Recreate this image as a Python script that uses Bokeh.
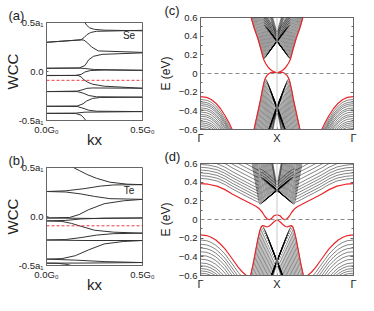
import numpy as np
from bokeh.plotting import figure
from bokeh.layouts import row, column
from bokeh.models import Span, FixedTicker, LinearAxis, Label, Range1d
from bokeh.embed import file_html
from bokeh.resources import INLINE

FONT = "Liberation Sans"
FRAME = "#666666"
RED = "#e8262a"

# ---------------- (a) Se : WCC vs kx (units a1 / G0) ----------------
se_k = [
    [0, 0.179, 0.195, 0.21, 0.23, 0.26, 0.5],
    [0, 0.179, 0.195, 0.215, 0.235, 0.27, 0.5],
    [0, 0.17, 0.2, 0.22, 0.245, 0.29, 0.5],
    [0, 0.17, 0.2, 0.25, 0.5],
    [0, 0.15, 0.18, 0.2, 0.23, 0.3, 0.5],
    [0, 0.164, 0.18, 0.195, 0.215, 0.241, 0.3, 0.5],
    [0, 0.16, 0.19, 0.21, 0.24, 0.5],
    [0, 0.16, 0.19, 0.22, 0.26, 0.5],
    [0, 0.16, 0.19, 0.21, 0.24, 0.28, 0.5],
    [0, 0.16, 0.19, 0.22, 0.26, 0.5],
    [0, 0.15, 0.2, 0.5],
    [0, 0.15, 0.18, 0.195, 0.205],
    [0.2, 0.21, 0.225, 0.25, 0.3, 0.5],
]
se_w = [
    [0.298, 0.323, 0.345, 0.375, 0.398, 0.41, 0.42],
    [0.298, 0.323, 0.32, 0.29, 0.25, 0.21, 0.195],
    [0.033, 0.036, 0.06, 0.12, 0.155, 0.175, 0.19],
    [0.033, 0.035, 0.03, 0.02, 0.012],
    [-0.04, -0.04, -0.03, -0.005, 0.01, 0.015, 0.012],
    [-0.042, -0.04, -0.055, -0.084, -0.11, -0.13, -0.15, -0.171],
    [-0.205, -0.2, -0.185, -0.172, -0.168, -0.171],
    [-0.205, -0.205, -0.22, -0.245, -0.258, -0.262],
    [-0.355, -0.352, -0.33, -0.3, -0.275, -0.265, -0.262],
    [-0.355, -0.357, -0.375, -0.395, -0.405, -0.409],
    [-0.427, -0.425, -0.415, -0.409],
    [-0.427, -0.428, -0.445, -0.475, -0.5],
    [0.5, 0.47, 0.445, 0.43, 0.422, 0.415],
]
se_ref = -0.09

# ---------------- (b) Te ----------------
te_k = [
    [0, 0.1, 0.2, 0.28, 0.35, 0.5],
    [0, 0.1, 0.18, 0.25, 0.33, 0.5],
    [0, 0.12, 0.17, 0.22, 0.3, 0.4, 0.5],
    [0, 0.25, 0.5],
    [0, 0.1, 0.18, 0.3, 0.5],
    [0, 0.08, 0.13, 0.18, 0.25, 0.35, 0.5],
    [0, 0.1, 0.18, 0.26, 0.35, 0.5],
    [0, 0.2, 0.5],
    [0, 0.08, 0.15, 0.22, 0.3, 0.4, 0.5],
    [0, 0.15, 0.3, 0.5],
    [0, 0.2, 0.5],
    [0, 0.06, 0.1, 0.13],
    [0.14, 0.17, 0.21, 0.26, 0.33, 0.42, 0.5],
]
te_w = [
    [0.255, 0.262, 0.285, 0.31, 0.322, 0.325],
    [0.255, 0.25, 0.23, 0.205, 0.182, 0.175],
    [-0.015, -0.01, 0.02, 0.07, 0.13, 0.16, 0.175],
    [-0.015, -0.02, -0.015],
    [-0.045, -0.04, -0.025, -0.017, -0.015],
    [-0.045, -0.05, -0.07, -0.1, -0.14, -0.16, -0.17],
    [-0.24, -0.235, -0.215, -0.19, -0.175, -0.17],
    [-0.24, -0.245, -0.245],
    [-0.435, -0.43, -0.4, -0.34, -0.28, -0.255, -0.245],
    [-0.435, -0.445, -0.46, -0.47],
    [-0.476, -0.475, -0.47],
    [-0.476, -0.478, -0.487, -0.5],
    [0.5, 0.47, 0.43, 0.39, 0.35, 0.33, 0.325],
]
te_ref = -0.095

# ---------------- (c) bands (left half, Gamma=0 .. X=0.5; right half mirrored) ----------------
c_gv_k = [0.0, 0.04, 0.07, 0.10, 0.13, 0.16, 0.19, 0.21, 0.23]
c_gv_e = [-0.248, -0.256, -0.278, -0.318, -0.375, -0.45, -0.54, -0.61, -0.68]
c_gv_shift = [0.03, 0.055, 0.075, 0.095, 0.12, 0.14, 0.165, 0.19, 0.21, 0.235, 0.26, 0.28, 0.30, 0.32, 0.34, 0.36]

c_xc_k = [0.323, 0.331, 0.35, 0.374, 0.395, 0.407, 0.414, 0.422, 0.44, 0.465, 0.485, 0.5]
c_xc_e = [0.64, 0.60, 0.49, 0.38, 0.26, 0.19, 0.155, 0.17, 0.215, 0.27, 0.315, 0.33]
c_xc_dk = [0.0, 0.005, 0.01, 0.015, 0.02, 0.025, 0.03, 0.035, 0.04, 0.045, 0.05, 0.055, 0.06, 0.065, 0.07, 0.075, 0.08, 0.086, 0.086, 0.086, 0.086, 0.086]
c_xc_de = [0.0, 0.011, 0.022, 0.033, 0.044, 0.055, 0.066, 0.077, 0.088, 0.099, 0.11, 0.121, 0.132, 0.143, 0.154, 0.165, 0.176, 0.19, 0.215, 0.24, 0.265, 0.29]

c_xv_k = [0.34, 0.35, 0.37, 0.39, 0.405, 0.416, 0.424, 0.433, 0.45, 0.47, 0.49, 0.5]
c_xv_e = [-0.68, -0.6, -0.45, -0.3, -0.17, -0.09, -0.055, -0.075, -0.15, -0.25, -0.34, -0.37]
c_xv_dk = [0.0, 0.005, 0.01, 0.015, 0.02, 0.025, 0.03, 0.035, 0.04, 0.045, 0.05, 0.055, 0.06, 0.065, 0.07, 0.076, 0.076, 0.076]
c_xv_de = [0.0, -0.021, -0.041, -0.062, -0.083, -0.104, -0.124, -0.145, -0.166, -0.187, -0.207, -0.228, -0.249, -0.27, -0.29, -0.315, -0.34, -0.37]

c_ru_k = [0.325, 0.331, 0.35, 0.374, 0.395, 0.407, 0.413, 0.425, 0.443, 0.463, 0.482, 0.5]
c_ru_e = [0.64, 0.60, 0.49, 0.38, 0.26, 0.185, 0.15, 0.11, 0.065, 0.035, 0.017, 0.008]
c_rl_k = [0.34, 0.35, 0.37, 0.39, 0.405, 0.416, 0.424, 0.435, 0.448, 0.463, 0.482, 0.5]
c_rl_e = [-0.68, -0.6, -0.45, -0.3, -0.17, -0.09, -0.05, -0.02, 0.0, 0.013, 0.013, 0.008]

# ---------------- (d) bands ----------------
d_gv_k = [0.0, 0.04, 0.069, 0.1, 0.128, 0.16, 0.187, 0.22, 0.246, 0.275, 0.3, 0.32]
d_gv_e = [-0.165, -0.172, -0.19, -0.22, -0.26, -0.315, -0.375, -0.45, -0.51, -0.565, -0.6, -0.63]
d_gv_shift = [0.055, 0.1, 0.14, 0.18, 0.22, 0.26, 0.3, 0.33, 0.36, 0.385, 0.41, 0.43]

d_gc_k = [0.0, 0.05, 0.108, 0.16, 0.207, 0.26, 0.305, 0.34, 0.364, 0.38]
d_gc_e = [0.385, 0.378, 0.358, 0.32, 0.274, 0.228, 0.19, 0.16, 0.14, 0.128]
d_gc_shift = [0.055, 0.085, 0.115, 0.145, 0.175, 0.205, 0.24, 0.28, 0.32, 0.36, 0.4]

d_xc_k = [0.33, 0.337, 0.35, 0.362, 0.373, 0.381, 0.387, 0.393, 0.41, 0.435, 0.46, 0.485, 0.5]
d_xc_e = [0.65, 0.6, 0.48, 0.37, 0.27, 0.2, 0.165, 0.165, 0.19, 0.225, 0.26, 0.29, 0.3]
d_xc_dk = [0.0, 0.006, 0.012, 0.018, 0.024, 0.03, 0.037, 0.043, 0.05, 0.056, 0.062, 0.068, 0.074, 0.08, 0.086, 0.092, 0.098, 0.104, 0.11, 0.11, 0.11, 0.11]
d_xc_de = [0.0, 0.008, 0.017, 0.025, 0.034, 0.042, 0.051, 0.06, 0.068, 0.077, 0.086, 0.094, 0.103, 0.111, 0.12, 0.128, 0.137, 0.146, 0.155, 0.18, 0.21, 0.24]

d_xv_k = [0.32, 0.328, 0.345, 0.36, 0.375, 0.388, 0.397, 0.404, 0.415, 0.435, 0.46, 0.48, 0.5]
d_xv_e = [-0.66, -0.6, -0.47, -0.34, -0.21, -0.12, -0.078, -0.068, -0.09, -0.17, -0.28, -0.37, -0.45]
d_xv_dk = [0.0, 0.006, 0.012, 0.018, 0.024, 0.03, 0.036, 0.042, 0.048, 0.054, 0.06, 0.066, 0.072, 0.078, 0.084, 0.09, 0.096, 0.096]
d_xv_de = [0.0, -0.025, -0.05, -0.075, -0.1, -0.125, -0.15, -0.175, -0.2, -0.225, -0.25, -0.275, -0.3, -0.325, -0.35, -0.375, -0.4, -0.43]

d_ru_k = [0.0, 0.05, 0.108, 0.16, 0.207, 0.26, 0.305, 0.34, 0.364, 0.385, 0.405, 0.42, 0.435, 0.45, 0.465, 0.48, 0.5]
d_ru_e = [0.385, 0.378, 0.358, 0.32, 0.274, 0.228, 0.19, 0.16, 0.14, 0.115, 0.075, 0.035, 0.008, -0.002, 0.012, 0.04, 0.05]
d_rl_k = [0.32, 0.328, 0.345, 0.36, 0.375, 0.388, 0.397, 0.404, 0.415, 0.43, 0.445, 0.46, 0.475, 0.49, 0.5]
d_rl_e = [-0.66, -0.6, -0.47, -0.34, -0.21, -0.12, -0.078, -0.065, -0.068, -0.078, -0.075, -0.057, -0.032, -0.012, -0.005]

E_TICKS = [-0.6, -0.4, -0.2, 0.0, 0.2, 0.4, 0.6]
E_MINOR = [-0.5, -0.3, -0.1, 0.1, 0.3, 0.5]
K_TICKS = [0.0, 0.5, 1.0]
K_LABELS = ["Γ", "X", "Γ"]


def base_fig(w, h, bl, br, bt, bb, xr, yr, letter, loff):
    p = figure(width=w, height=h, x_range=Range1d(*xr), y_range=Range1d(*yr),
               output_backend="svg", toolbar_location=None,
               min_border_left=bl, min_border_right=br,
               min_border_top=bt, min_border_bottom=bb, title=letter)
    p.title.align = "left"
    p.title.offset = loff
    p.title.standoff = 0
    p.title.text_font = FONT
    p.title.text_font_size = "13px"
    p.title.text_font_style = "normal"
    p.title.text_color = "#222222"
    p.xgrid.visible = False
    p.ygrid.visible = False
    p.outline_line_color = FRAME
    p.outline_line_width = 1
    p.background_fill_color = "white"
    p.border_fill_color = "white"
    for ax in (p.xaxis[0], p.yaxis[0]):
        ax.axis_line_color = FRAME
        ax.major_tick_line_color = FRAME
        ax.minor_tick_line_color = FRAME
        ax.major_label_text_font = FONT
        ax.major_label_text_font_size = "9.5px"
        ax.major_label_text_color = "#222222"
        ax.axis_label_text_font = FONT
        ax.axis_label_text_font_style = "normal"
        ax.axis_label_text_color = "#222222"
    return p


def wcc_fig(h, bt, bb, ks, ws, ref, tag, name, ty):
    p = base_fig(155, h, 39, 13, bt, bb, (0, 0.5), (-0.5, 0.5), tag, -38)
    p.xaxis.ticker = FixedTicker(ticks=[0.0, 0.5])
    p.xaxis.major_label_overrides = {0: "0.0G₀", 0.5: "0.5G₀"}
    p.yaxis.ticker = FixedTicker(ticks=[-0.5, 0.0, 0.5])
    p.yaxis.major_label_overrides = {-0.5: "-0.5a₁", 0: "0.0", 0.5: "0.5a₁"}
    for ax in (p.xaxis[0], p.yaxis[0]):
        ax.major_tick_in = 2
        ax.major_tick_out = 0
        ax.minor_tick_line_color = None
        ax.major_label_standoff = 3
        ax.axis_label_text_font_size = "15px"
    p.xaxis.axis_label = "kx"
    p.xaxis.axis_label_standoff = -7
    p.yaxis.axis_label = "WCC"
    p.yaxis.axis_label_standoff = -5
    p.multi_line(ks, ws, line_color="#333333", line_width=1.0)
    p.add_layout(Span(location=ref, dimension="width", line_color=RED,
                      line_dash="3 2", line_width=0.9))
    p.add_layout(Label(x=0.43, y=ty, text=name, text_font=FONT, text_font_size="10px",
                       text_color="#222222", text_align="center", text_baseline="middle"))
    return p


def fam_shift(ks, es, shifts, sign):
    xs, ys = [], []
    for s in shifts:
        e = [v + sign * s for v in es]
        xs.append(list(ks)); ys.append(e)
        xs.append([1 - k for k in ks]); ys.append(e)
    return xs, ys


def fam_move(ks, es, dks, des):
    xs, ys = [], []
    for dk, de in zip(dks, des):
        k2 = [k + dk for k in ks]
        e2 = [v + de for v in es]
        xs.append(k2); ys.append(e2)
        xs.append([1 - k for k in k2]); ys.append(e2)
    return xs, ys


def both(ks, es):
    return [list(ks), [1 - k for k in ks]], [list(es), list(es)]


def band_fig(h, bt, bb, tag, shift_fams, move_fams, red_lines):
    p = base_fig(203, h, 38, 5, bt, bb, (0, 1), (-0.6, 0.6), tag, -36)
    p.xaxis.ticker = FixedTicker(ticks=K_TICKS)
    p.xaxis.major_label_overrides = {0: K_LABELS[0], 0.5: K_LABELS[1], 1: K_LABELS[2]}
    p.xaxis.major_label_text_font_size = "11px"
    p.xaxis.major_tick_in = 2
    p.xaxis.major_tick_out = 0
    p.xaxis.minor_tick_line_color = None
    p.xaxis.major_label_standoff = 2
    p.yaxis.ticker = FixedTicker(ticks=E_TICKS, minor_ticks=E_MINOR)
    p.yaxis.major_tick_in = 3
    p.yaxis.major_tick_out = 0
    p.yaxis.minor_tick_in = 2
    p.yaxis.minor_tick_out = 0
    p.yaxis.major_label_standoff = 3
    p.yaxis.axis_label = "E (eV)"
    p.yaxis.axis_label_text_font_size = "12px"
    p.yaxis.axis_label_standoff = 3
    right = LinearAxis(ticker=FixedTicker(ticks=E_TICKS, minor_ticks=E_MINOR),
                       major_label_overrides={t: "" for t in E_TICKS},
                       major_label_standoff=0,
                       axis_line_color=FRAME, major_tick_line_color=FRAME,
                       minor_tick_line_color=FRAME, major_tick_in=3, major_tick_out=0,
                       minor_tick_in=2, minor_tick_out=0)
    p.add_layout(right, "right")
    for (ks, es, shifts, sign) in shift_fams:
        xs, ys = fam_shift(ks, es, shifts, sign)
        p.multi_line(xs, ys, line_color="black", line_width=0.55, line_alpha=0.9)
    for (ks, es, dks, des) in move_fams:
        xs, ys = fam_move(ks, es, dks, des)
        p.multi_line(xs, ys, line_color="black", line_width=0.5, line_alpha=0.9)
    p.add_layout(Span(location=0.5, dimension="height", line_color="#c8c8c8", line_width=1))
    p.add_layout(Span(location=0.0, dimension="width", line_color="#8a8a8a",
                      line_dash="4 3", line_width=1))
    for (ks, es) in red_lines:
        xs, ys = both(ks, es)
        p.multi_line(xs, ys, line_color=RED, line_width=1.2)
    return p


pa = wcc_fig(150, 22, 24, se_k, se_w, se_ref, "(a)", "Se", 0.37)
pb = wcc_fig(145, 16, 25, te_k, te_w, te_ref, "(b)", "Te", 0.262)

pc = band_fig(146, 17, 16, "(c)",
              [(c_gv_k, c_gv_e, c_gv_shift, -1)],
              [(c_xc_k, c_xc_e, c_xc_dk, c_xc_de),
               (c_xv_k, c_xv_e, c_xv_dk, c_xv_de)],
              [(c_gv_k, c_gv_e), (c_ru_k, c_ru_e), (c_rl_k, c_rl_e)])
pd = band_fig(149, 16, 20, "(d)",
              [(d_gv_k, d_gv_e, d_gv_shift, -1),
               (d_gc_k, d_gc_e, d_gc_shift, +1)],
              [(d_xc_k, d_xc_e, d_xc_dk, d_xc_de),
               (d_xv_k, d_xv_e, d_xv_dk, d_xv_de)],
              [(d_gv_k, d_gv_e), (d_ru_k, d_ru_e), (d_rl_k, d_rl_e)])

layout = row(column(pa, pb), column(pc, pd))
open("out.html", "w").write(file_html(layout, INLINE))
